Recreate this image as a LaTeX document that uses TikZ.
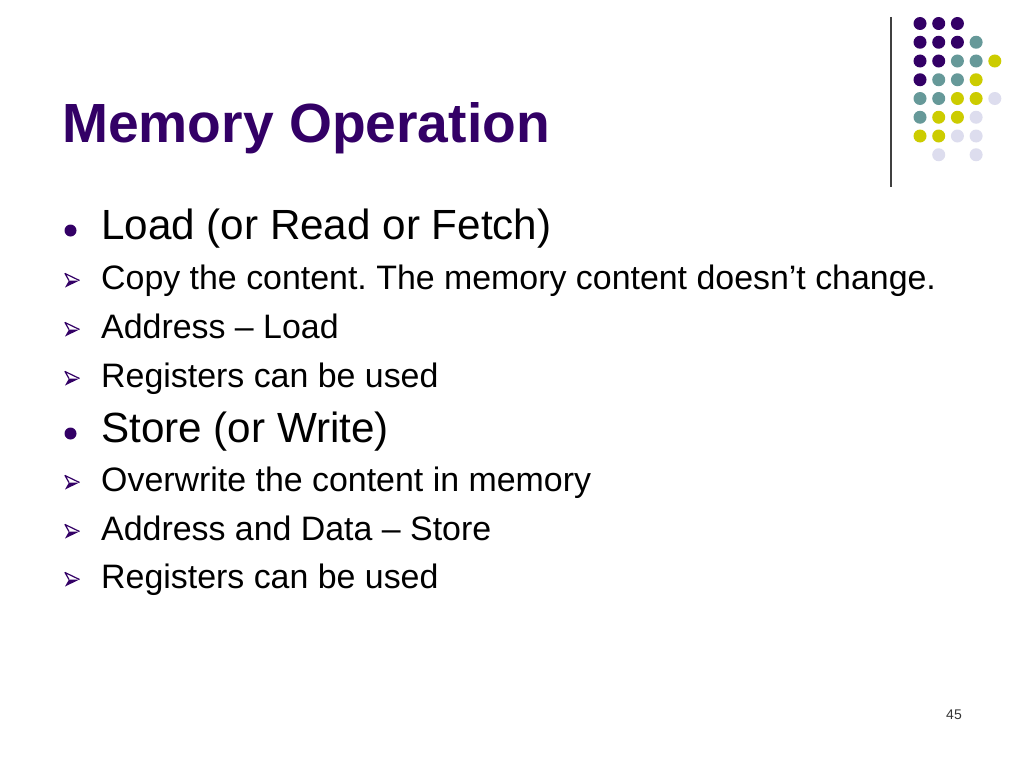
\documentclass[tikz,border=0pt]{standalone}
\usepackage{fontspec}
\setmainfont{Liberation Sans}
\frenchspacing
\definecolor{dpurple}{HTML}{330066}
\definecolor{dteal}{HTML}{669999}
\definecolor{dyellow}{HTML}{CCCC00}
\definecolor{dlav}{HTML}{DDDDEE}
\begin{document}
\begin{tikzpicture}[x=1pt,y=-1pt,
  titletext/.style={anchor=base west,inner sep=0pt,text=dpurple,font=\fontsize{55.2}{60}\selectfont\bfseries},
  lvlone/.style={anchor=base west,inner sep=0pt,font=\fontsize{42.2}{50}\selectfont},
  lvltwo/.style={anchor=base west,inner sep=0pt,font=\fontsize{33.9}{40}\selectfont},
  pagenum/.style={anchor=base west,inner sep=0pt,text=black!80,font=\fontsize{14}{16}\selectfont},
  dotp/.style={fill=dpurple},
  dott/.style={fill=dteal},
  doty/.style={fill=dyellow},
  dotl/.style={fill=dlav}]
\useasboundingbox (0,0) rectangle (1024,768);
\fill[white] (0,0) rectangle (1024,768);

% decoration: vertical line and dot grid
\draw[line width=1.4pt, black!75] (891,17) -- (891,187);
\def\dr{6.5}
\foreach \r/\row in {1/{p,p,p},2/{p,p,p,t},3/{p,p,t,t,y},4/{p,t,t,y},5/{t,t,y,y,l},6/{t,y,y,l},7/{y,y,l,l}}{
  \foreach \c [count=\i] in \row {
    \fill[dot\c] ({920+(\i-1)*18.7},{23.5+(\r-1)*18.75}) circle (\dr);
  }
}
\fill[dotl] ({920+1*18.7},{23.5+7*18.75}) circle (\dr);
\fill[dotl] ({920+3*18.7},{23.5+7*18.75}) circle (\dr);

% title
\node[titletext] (title) at (62,142) {Memory Operation};

% level one items
\node[lvlone] (load) at (101,239) {Load (or Read or Fetch)};
\node[lvlone] (store) at (101,442) {Store (or Write)};
\fill[dpurple] (70.5,230.5) circle (6);
\fill[dpurple] (70.5,433.5) circle (6);

% level two items
\node[lvltwo] (copy) at (101,289) {Copy the content. The memory content doesn’t change.};
\node[lvltwo] (addrl) at (101,338) {Address – Load};
\node[lvltwo] (regl) at (101,387) {Registers can be used};
\node[lvltwo] (over) at (101,491) {Overwrite the content in memory};
\node[lvltwo] (addrs) at (101,540) {Address and Data – Store};
\node[lvltwo] (regs) at (101,588) {Registers can be used};

\foreach \by in {289,338,387,491,540,588}{
  \begin{scope}[shift={(72,\by-8.5)}]
    \fill[dpurple] (7.5,0) -- (-3,0) -- (-7,7) -- cycle;
    \draw[dpurple, line width=1.2pt, line join=round] (7.5,0) -- (-7,-7) -- (-3,0);
  \end{scope}
}

% page number
\node[pagenum] (pg) at (946,719) {45};
\end{tikzpicture}
\end{document}
